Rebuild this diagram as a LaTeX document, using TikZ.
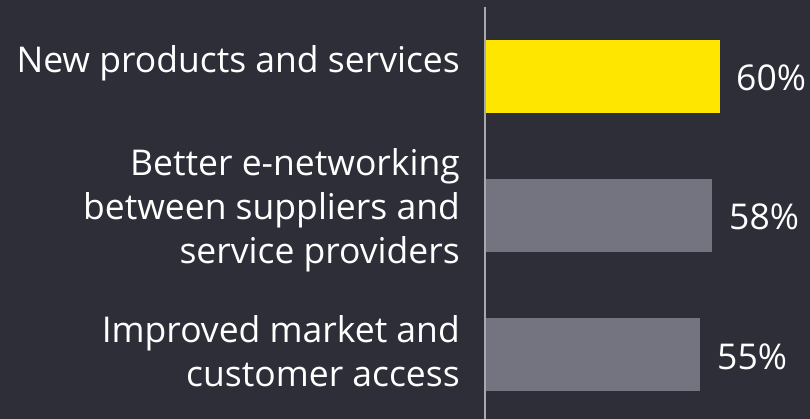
\documentclass[tikz,border=0pt]{standalone}
\usepackage{fontspec}
\setmainfont{Open Sans}
\definecolor{bgc}{HTML}{2E2E38}
\definecolor{eyy}{HTML}{FFE600}
\definecolor{eyg}{HTML}{747480}
\definecolor{axc}{HTML}{A8A8B0}
\begin{document}
\begin{tikzpicture}[x=1pt,y=-1pt,
  lab/.style={text=white,font=\fontsize{35.5}{44}\selectfont,inner sep=0pt,align=right},
  pct/.style={text=white,font=\fontsize{35.5}{44}\selectfont,inner sep=0pt,anchor=base west}]
\fill[bgc] (0,0) rectangle (810,419);
\useasboundingbox (0,0) rectangle (810,419);
\fill[eyy] (485,40) rectangle (720,113);
\fill[eyg] (485,179) rectangle (712,252);
\fill[eyg] (485,318) rectangle (700,391);
\draw[axc,line width=1.2pt] (485,7) coordinate (axtop) -- (485,419) coordinate (axbot);
\node[lab,anchor=base east] (l1) at (460,73) {New products and services};
\node[lab,anchor=north east] (l2) at (460,148) {Better e-networking\\between suppliers and\\service providers};
\node[lab,anchor=north east] (l3) at (460,315) {Improved market and\\customer access};
\node[pct] (p1) at (736,91) {60\%};
\node[pct] (p2) at (729,230) {58\%};
\node[pct] (p3) at (717,369) {55\%};
\end{tikzpicture}
\end{document}
